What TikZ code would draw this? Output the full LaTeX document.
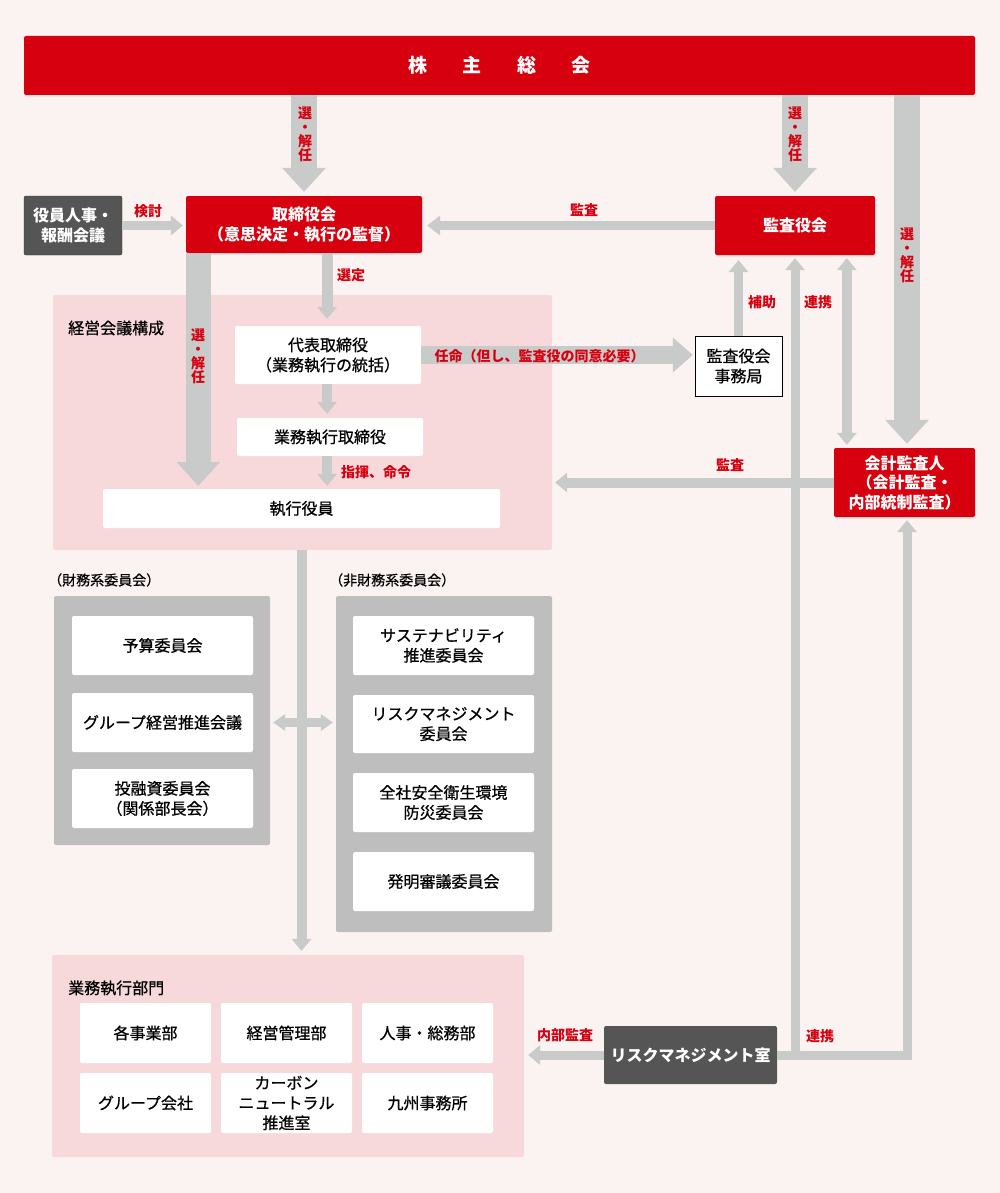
\documentclass[tikz,border=0pt]{standalone}
\usepackage{fontspec}
\setmainfont{Noto Sans CJK JP}
\newfontfamily\medfont{Noto Sans CJK JP}[FakeBold=0.7]
\usetikzlibrary{arrows.meta,shadows}
\definecolor{jred}{HTML}{D7000F}
\definecolor{jgray}{HTML}{C9CACA}
\definecolor{jpink}{HTML}{F7D9DB}
\definecolor{jbg}{HTML}{FBF3F2}
\definecolor{jpanel}{HTML}{BEBEBE}
\definecolor{jdark}{HTML}{555555}
\tikzset{
  sz/.style 2 args={minimum width=#1pt,minimum height=#2pt},
}

\begin{document}
\begin{tikzpicture}[x=1pt,y=-1pt,
  box/.style={inner sep=0pt,align=center,rounded corners=2pt,fill=white,
    font=\fontsize{16}{20}\selectfont\medfont},
  redbox/.style={box,fill=jred,text=white,font=\fontsize{16}{19.5}\selectfont\bfseries,
    drop shadow={opacity=0.12,shadow xshift=1pt,shadow yshift=-2pt}},
  darkbox/.style={box,fill=jdark,text=white,font=\fontsize{16}{20}\selectfont\bfseries},
  region/.style={inner sep=0pt,fill=jpink,rounded corners=2pt},
  panel/.style={inner sep=0pt,fill=jpanel,rounded corners=2pt},
  lbl/.style={text=jred,font=\fontsize{14}{14}\selectfont\bfseries,inner sep=0pt,align=center},
  head/.style={font=\fontsize{16}{19}\selectfont\medfont,inner sep=0pt,anchor=west},
  gtip/.tip={Triangle[width=20pt,length=12pt,line width=0pt]},
  stip/.tip={Triangle[width=17pt,length=12pt,line width=0pt]},
  fat/.style={draw=jgray,line width=26pt,-{Triangle[width=44pt,length=24pt,line width=0pt]}},
  thin/.style={draw=jgray,line width=10pt,-gtip},
]
\fill[jbg] (0,0) rectangle (1000,1193);
\useasboundingbox (0,0) rectangle (1000,1193);

% regions and panels
\node[region,sz={499}{255}] (keiei) at (302.5,422.5) {};
\node[region,sz={472}{202}] (bumon) at (288,1056) {};
\node[panel,sz={216}{249}] (zaimu) at (162,720.5) {};
\node[panel,sz={216}{336}] (hizaimu) at (444,764) {};
\node[head] (keieilbl) at (68,328) {経営会議構成};
\node[head] (bumonlbl) at (68,988) {業務執行部門};
\node[head,font=\fontsize{14}{16}\selectfont\medfont] (zaimulbl) at (48,580) {（財務系委員会）};
\node[head,font=\fontsize{14}{16}\selectfont\medfont] (hizaimulbl) at (329,580) {（非財務系委員会）};

% main boxes
\node[redbox,sz={951}{59},font=\fontsize{19}{20}\selectfont\bfseries] (soukai) at (499.5,65.5)
  {株\hspace{35.5pt}主\hspace{35.5pt}総\hspace{35.5pt}会};
\node[darkbox,draw=black!80,sz={98}{59}] (yakuin) at (73,225.5) {役員人事・\\報酬会議};
\node[redbox,sz={236}{57}] (torishimari) at (304,224.5) {取締役会\\（意思決定・執行の監督）};
\node[redbox,sz={160}{59}] (kansa) at (795,225.5) {監査役会};
\node[box,sz={186}{58}] (daihyo) at (328,355) {代表取締役\\（業務執行の統括）};
\node[box,sz={186}{38}] (gyomu) at (330,437) {業務執行取締役};
\node[box,sz={397}{39}] (shikko) at (301.5,508.5) {執行役員};
\node[box,draw=black,rounded corners=0pt,sz={87}{60}] (jimukyoku) at (738.5,366) {監査役会\\事務局};
\node[redbox,sz={141}{69}] (kaikei) at (904.5,482.5) {会計監査人\\（会計監査・\\内部統制監査）};

% committees
\node[box,sz={181}{59}] (yosan) at (162.5,645.5) {予算委員会};
\node[box,sz={181}{59}] (grpkeiei) at (162.5,722.5) {グループ経営推進会議};
\node[box,sz={181}{59}] (toyushi) at (162.5,798.5) {投融資委員会\\（関係部長会）};
\node[box,sz={181}{59}] (sustain) at (443.5,645.5) {サステナビリティ\\推進委員会};
\node[box,sz={181}{58}] (riskiin) at (443.5,724) {リスクマネジメント\\委員会};
\node[box,sz={181}{59}] (anzen) at (443.5,802.5) {全社安全衛生環境\\防災委員会};
\node[box,sz={181}{59}] (hatsumei) at (443.5,881.5) {発明審議委員会};

% departments
\node[box,sz={131}{60}] (jigyo) at (145.5,1033) {各事業部};
\node[box,sz={131}{60}] (keikan) at (286.5,1033) {経営管理部};
\node[box,sz={131}{60}] (jinji) at (427.5,1033) {人事・総務部};
\node[box,sz={131}{60}] (group) at (145.5,1103) {グループ会社};
\node[box,sz={131}{60}] (carbon) at (286.5,1103) {カーボン\\ニュートラル\\推進室};
\node[box,sz={131}{60}] (kyushu) at (427.5,1103) {九州事務所};
\node[darkbox,sz={173}{58}] (risk) at (690.5,1055) {リスクマネジメント室};

% columns for the arrows
\coordinate (kcol) at ([xshift=2.5pt]kaikei.north);
\coordinate (lcol) at ([xshift=12.5pt]torishimari.south west);
\coordinate (dcol) at ([xshift=13pt]kaikei.north west);
\coordinate (rcol) at ([xshift=2.5pt]kaikei.south);
\coordinate (acol) at ([xshift=-1pt]daihyo.north);

% from the general meeting
\draw[fat,shorten >=4pt] (torishimari.north |- soukai.south) -- (torishimari.north);
\draw[fat,shorten >=4pt] (kansa.north |- soukai.south) -- (kansa.north);
\draw[fat,shorten >=4pt] (kcol |- soukai.south) -- (kcol);
\draw[fat,line width=25pt,shorten >=3pt] (lcol) -- (lcol |- shikko.north);

% board and executives
\draw[thin,line width=9pt,shorten >=3pt] (yakuin.east) -- (yakuin.east -| torishimari.west);
\draw[thin,line width=9pt,-{Triangle[width=20pt,length=13pt,line width=0pt]},shorten >=5pt]
  (kansa.west) -- (kansa.west -| torishimari.east);
\draw[thin,line width=11pt,shorten >=7pt] (acol |- torishimari.south) -- (acol);
\draw[thin,shorten >=4pt] (acol |- daihyo.south) -- (acol |- gyomu.north);
\draw[thin,shorten >=3pt] (acol |- gyomu.south) -- (acol |- shikko.north);
\draw[thin,line width=18pt,-{Triangle[width=35pt,length=20pt,line width=0pt]},shorten >=2pt]
  (daihyo.east) -- (daihyo.east -| jimukyoku.west);

% audit side
\draw[thin,line width=9pt,shorten >=5pt] (jimukyoku.north) -- (jimukyoku.north |- kansa.south);
\draw[thin,gtip-gtip,shorten <=3pt,shorten >=3pt] (dcol |- kansa.south) -- (dcol);
\draw[thin,shorten >=3pt] (kaikei.west) -- (kaikei.west -| keiei.east);

% risk management
\draw[thin,line width=9pt,shorten >=3pt] (risk.east) -| (rcol);
\draw[thin,line width=9pt,shorten >=3pt] (risk.east -| kansa.south) -- (kansa.south);
\draw[thin,line width=9pt,shorten >=4pt] (risk.west) -- (risk.west -| bumon.east);

% committees and departments
\draw[thin,shorten >=4pt] (shikko.south |- keiei.south) -- (shikko.south |- bumon.north);
\draw[thin,line width=9pt,stip-stip,shorten <=3pt,shorten >=3pt] (zaimu.east |- grpkeiei) -- (hizaimu.west |- grpkeiei);

% labels
\node[lbl] (senkai1) at (305,134) {選\\・\\解\\任};
\node[lbl] (senkai2) at (795,134) {選\\・\\解\\任};
\node[lbl] (senkai3) at (907,255) {選\\・\\解\\任};
\node[lbl] (senkai4) at (198,356) {選\\・\\解\\任};
\node[lbl] (kento) at (148,211) {検討};
\node[lbl] (kansa1) at (584,210) {監査};
\node[lbl] (sentei) at (351,275) {選定};
\node[lbl] (shiki) at (376,472) {指揮、命令};
\node[lbl] (ninmei) at (539.5,356) {任命（但し、監査役の同意必要）};
\node[lbl] (hojo) at (762,302) {補助};
\node[lbl] (renkei1) at (818,302) {連携};
\node[lbl] (kansa2) at (730,465) {監査};
\node[lbl] (renkei2) at (820,1036) {連携};
\node[lbl] (naibu) at (565,1035) {内部監査};
\end{tikzpicture}
\end{document}
